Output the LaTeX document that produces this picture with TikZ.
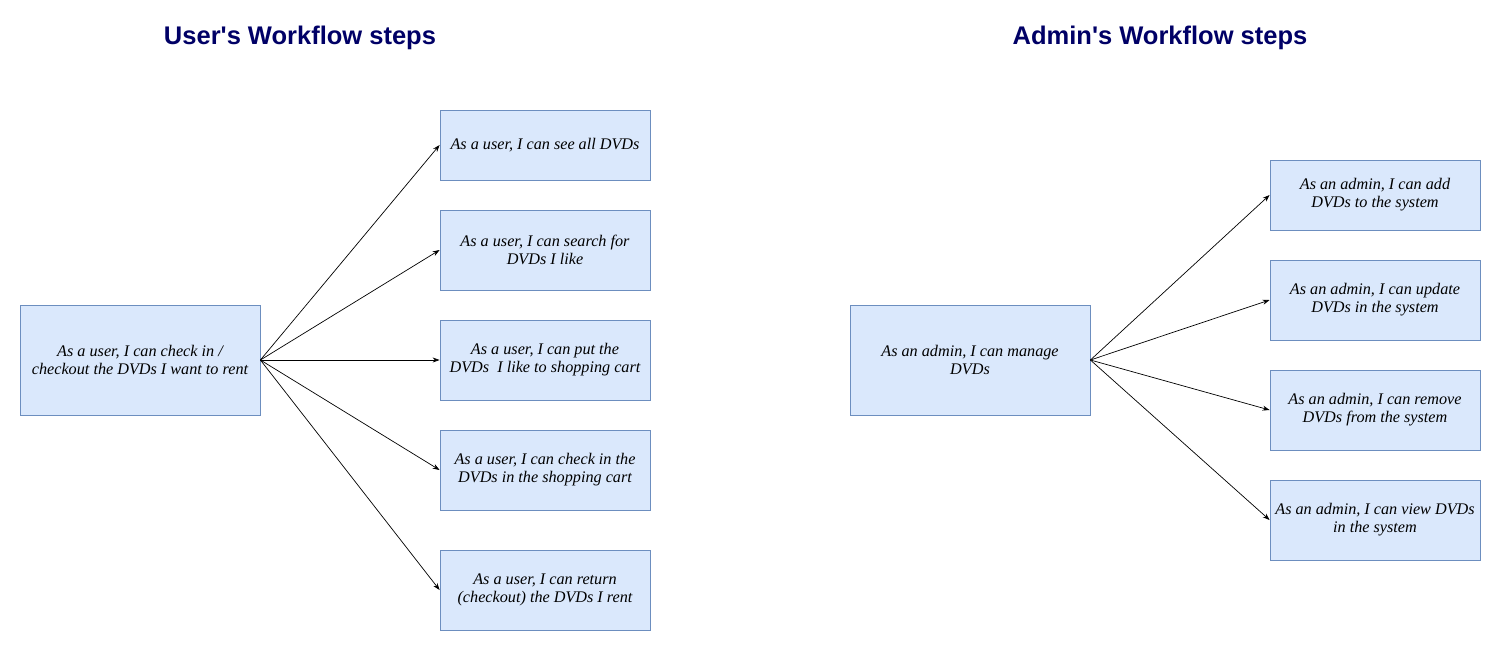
\documentclass[tikz,border=0pt]{standalone}
\usepackage{fontspec}
\setmainfont{Liberation Serif}
\newfontfamily\titlefont{Liberation Sans}
\usetikzlibrary{arrows.meta}
\definecolor{boxfill}{HTML}{DAE8FC}
\definecolor{boxdraw}{HTML}{6C8EBF}
\definecolor{titlecol}{HTML}{000066}
\tikzset{
  storybox/.style={draw=boxdraw, fill=boxfill, line width=0.8pt, minimum width=210pt, minimum height=80pt, inner sep=0pt, align=center, font=\fontsize{16.2}{18}\selectfont\itshape},
  mainbox/.style={storybox, minimum width=240pt, minimum height=110pt},
  titletext/.style={font=\titlefont\bfseries\fontsize{25.5}{28}\selectfont, text=titlecol},
  link/.style={-{Stealth[length=7pt,width=5pt]}, line width=0.7pt, black},
}
\begin{document}
\begin{tikzpicture}[x=1pt,y=-1pt]
\useasboundingbox (0,0) rectangle (1501,651);
\node[titletext] (t1) at (300,37.5) {User's Workflow steps};
\node[titletext] (t2) at (1160,37.5) {Admin's Workflow steps};

\node[mainbox] (u) at (140,360) {As a user, I can check in /\\checkout the DVDs I want to rent};
\node[storybox, minimum height=70pt] (u1) at (545,145) {As a user, I can see all DVDs};
\node[storybox] (u2) at (545,250) {As a user, I can search for\\DVDs I like};
\node[storybox] (u3) at (545,360) {As a user, I can put the\\DVDs\ \ I like to shopping cart};
\node[storybox] (u4) at (545,470) {As a user, I can check in the\\DVDs in the shopping cart};
\node[storybox] (u5) at (545,590) {As a user, I can return\\(checkout) the DVDs I rent};

\node[mainbox] (a) at (970,360) {As an admin, I can manage\\DVDs};
\node[storybox, minimum height=70pt] (a1) at (1375,195) {As an admin, I can add\\DVDs to the system};
\node[storybox] (a2) at (1375,300) {As an admin, I can update\\DVDs in the system};
\node[storybox] (a3) at (1375,410) {As an admin, I can remove\\DVDs from the system};
\node[storybox] (a4) at (1375,520) {As an admin, I can view DVDs\\in the system};

\foreach \n in {u1,u2,u3,u4,u5} \draw[link] (u.east) -- (\n.west);
\foreach \n in {a1,a2,a3,a4} \draw[link] (a.east) -- (\n.west);
\end{tikzpicture}
\end{document}
